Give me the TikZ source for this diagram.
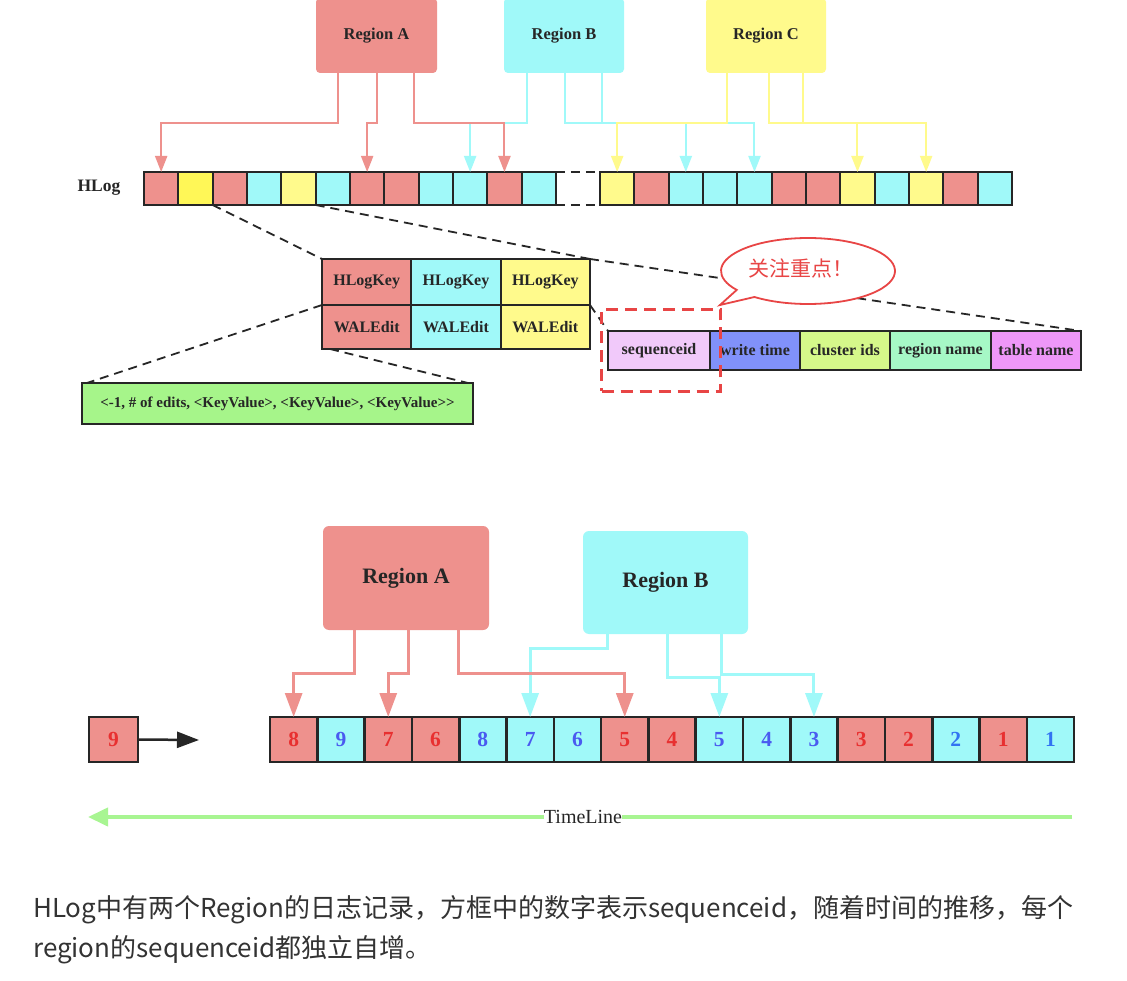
\documentclass[tikz,border=0pt]{standalone}
\usepackage{fontspec}
\setmainfont{Liberation Serif}[Ligatures=NoCommon]
\newfontfamily\cjk{Noto Sans CJK SC}
\usetikzlibrary{arrows.meta,calc}
\definecolor{cr}{HTML}{EE918D}
\definecolor{cc}{HTML}{A0F9F9}
\definecolor{cy}{HTML}{FFFA8C}
\definecolor{cyb}{HTML}{FFF757}
\definecolor{cg}{HTML}{A6F58A}
\definecolor{sqa}{HTML}{F1C9FA}
\definecolor{sqb}{HTML}{8191FA}
\definecolor{sqc}{HTML}{D5F88A}
\definecolor{sqd}{HTML}{A6F8C6}
\definecolor{sqe}{HTML}{EE97F8}
\definecolor{bred}{HTML}{E84545}
\definecolor{nred}{HTML}{E83030}
\definecolor{nblue}{HTML}{4A5AF0}
\definecolor{nblueb}{HTML}{3273F2}
\definecolor{tlc}{HTML}{A8F592}
\definecolor{dk}{HTML}{262626}
\definecolor{capc}{HTML}{333333}
\begin{document}
\begin{tikzpicture}[x=1pt,y=-1pt,
  rbox/.style={rounded corners=4pt, inner sep=0pt, outer sep=0pt, text=dk, anchor=north west},
  lab/.style={font=\bfseries\fontsize{16}{19}\selectfont, text=dk},
  hcell/.style={draw=dk, line width=1.8pt, minimum width=34.33pt, minimum height=33pt, inner sep=0pt, outer sep=0pt, anchor=north west},
  tcell/.style={draw=dk, line width=1.8pt, minimum width=89.33pt, inner sep=0pt, outer sep=0pt, anchor=north west, lab},
  scell/.style={draw=dk, line width=1.8pt, minimum height=39pt, inner sep=0pt, outer sep=0pt, anchor=north west, lab},
  bcell/.style={draw=dk, line width=2.6pt, minimum width=47.3pt, minimum height=45pt, inner sep=0pt, outer sep=0pt, anchor=north west, font=\bfseries\fontsize{21.5}{24}\selectfont},
  ra/.style={draw=cr, line width=2pt, -{Triangle[length=16pt,width=12pt]}},
  ca/.style={draw=cc, line width=2pt, -{Triangle[length=16pt,width=12pt]}},
  ya/.style={draw=cy, line width=2pt, -{Triangle[length=16pt,width=12pt]}},
  rab/.style={draw=cr, line width=3pt, -{Triangle[length=24pt,width=17pt]}},
  cab/.style={draw=cc, line width=3pt, -{Triangle[length=24pt,width=17pt]}},
  zl/.style={draw=dk, line width=1.8pt, dash pattern=on 9pt off 6pt},
]
\useasboundingbox (0,0) rectangle (1127,981);
\fill[white] (0,0) rectangle (1127,981);

% ---------- top region boxes ----------
\node[rbox, fill=cr, minimum width=121pt, minimum height=75pt, font=\bfseries\fontsize{16.5}{19}\selectfont] (tA) at (316,-2) {Region A};
\node[rbox, fill=cc, minimum width=120pt, minimum height=75pt, font=\bfseries\fontsize{16.5}{19}\selectfont] (tB) at (504,-2) {Region B};
\node[rbox, fill=cy, minimum width=120pt, minimum height=75pt, font=\bfseries\fontsize{16.5}{19}\selectfont] (tC) at (706,-2) {Region C};

% ---------- HLog cells ----------
\foreach \f [count=\i] in {cr,cyb,cr,cc,cy,cc,cr,cr,cc,cc,cr,cc}
  \node[hcell, fill=\f] (t\i) at ({144+(\i-1)*34.33},172) {};
\foreach \f [count=\i from 13] in {cy,cr,cc,cc,cc,cr,cr,cy,cc,cy,cr,cc}
  \node[hcell, fill=\f] (t\i) at ({600+(\i-13)*34.33},172) {};
\draw[zl] (t12.north east) -- (t13.north west);
\draw[zl] (t12.south east) -- (t13.south west);
\node[font=\bfseries\fontsize{17.5}{20}\selectfont, text=dk] (hl) at (99,188) {HLog};

% ---------- top arrows ----------
\draw[ca] ([xshift=23pt]tB.south west) -- ++(0,50) -| (t10.north);
\draw[ca] ([xshift=61pt]tB.south west) -- ++(0,50) -| (t15.north);
\draw[ca] ([xshift=98pt]tB.south west) -- ++(0,50) -| (t17.north);
\draw[ra] ([xshift=22pt]tA.south west) -- ++(0,50) -| (t1.north);
\draw[ra] ([xshift=61pt]tA.south west) -- ++(0,50) -| (t7.north);
\draw[ra] ([xshift=98pt]tA.south west) -- ++(0,50) -| (t11.north);
\draw[ya] ([xshift=21pt]tC.south west) -- ++(0,50) -| (t13.north);
\draw[ya] ([xshift=63pt]tC.south west) -- ++(0,50) -| (t20.north);
\draw[ya] ([xshift=97pt]tC.south west) -- ++(0,50) -| (t22.north);

% ---------- HLogKey / WALEdit table ----------
\node[tcell, fill=cr, minimum height=46pt] (k1) at (322,259) {HLogKey};
\node[tcell, fill=cc, minimum height=46pt] (k2) at (411.33,259) {HLogKey};
\node[tcell, fill=cy, minimum height=46pt] (k3) at (500.67,259) {HLogKey};
\node[tcell, fill=cr, minimum height=44pt] (w1) at (322,305) {WALEdit};
\node[tcell, fill=cc, minimum height=44pt] (w2) at (411.33,305) {WALEdit};
\node[tcell, fill=cy, minimum height=44pt] (w3) at (500.67,305) {WALEdit};

% ---------- green box ----------
\node[draw=dk, line width=1.8pt, fill=cg, minimum width=391pt, minimum height=41pt, anchor=north west, inner sep=0pt, outer sep=0pt, font=\bfseries\fontsize{15}{18}\selectfont, text=dk] (g) at (82,383) {<{}-1, \# of edits, <{}KeyValue>{}, <{}KeyValue>{}, <{}KeyValue>{}>};

% ---------- sequence row ----------
\node[scell, fill=sqa, minimum width=102pt] (s1) at (608,331) {sequenceid};
\node[scell, fill=sqb, minimum width=90pt] (s2) at (710,331) {write time};
\node[scell, fill=sqc, minimum width=90pt] (s3) at (800,331) {cluster ids};
\node[scell, fill=sqd, minimum width=101pt] (s4) at (890,331) {region name};
\node[scell, fill=sqe, minimum width=90pt] (s5) at (991,331) {table name};

% ---------- dashed zoom lines ----------
\draw[zl] (t2.south east) -- (k1.north west);
\draw[zl] (t6.south west) -- (k3.north east);
\draw[zl] (k3.north east) -- (s5.north east);
\draw[zl] (w3.north east) -- (s1.north west);
\draw[zl] (w1.north west) -- ([xshift=5pt]g.north west);
\draw[zl] ([xshift=8pt]w1.south west) -- ([xshift=-5pt]g.north east);

% ---------- speech bubble ----------
\coordinate (bc) at (808,271);
\coordinate (btip) at (720,305);
\draw[draw=bred, line width=1.8pt, fill=white] ([shift={(128:87 and 33)}]bc) arc[start angle=128, end angle=-215, x radius=87, y radius=33] -- (btip) -- cycle;
\node[font=\cjk\fontsize{21}{24}\selectfont, text=bred] (btxt) at (801,268) {关注重点！};

% ---------- red dashed focus ----------
\node[draw=bred, line width=3pt, dash pattern=on 12pt off 7pt, minimum width=119pt, minimum height=82pt, inner sep=0pt, anchor=north west] (focus) at (600,308) {};

% ---------- bottom region boxes ----------
\node[rbox, fill=cr, minimum width=166pt, minimum height=104pt, rounded corners=6pt, font=\bfseries\fontsize{22}{26}\selectfont] (bA) at (323,526) {Region A};
\node[rbox, fill=cc, minimum width=165pt, minimum height=103pt, rounded corners=6pt, font=\bfseries\fontsize{22}{26}\selectfont] (bB) at (583,531) {Region B};

% ---------- bottom cells ----------
\foreach \n/\f/\t [count=\i] in {8/cr/nred,9/cc/nblue,7/cr/nred,6/cr/nred,8/cc/nblue,7/cc/nblue,6/cc/nblue,5/cr/nred,4/cr/nred,5/cc/nblue,4/cc/nblue,3/cc/nblue,3/cr/nred,2/cr/nred,2/cc/nblueb,1/cr/nred,1/cc/nblueb}
  \node[bcell, fill=\f, text=\t] (b\i) at ({270+(\i-1)*47.3},717) {\n};

% ---------- bottom arrows ----------
\draw[cab] ([xshift=24pt]bB.south west) -- ++(0,14) -| (b6.north);
\draw[cab] ([xshift=84pt]bB.south west) -- ++(0,43) -| (b10.north);
\draw[cab] ([xshift=138pt]bB.south west) -- ++(0,40) -| (b12.north);
\draw[rab] ([xshift=31pt]bA.south west) -- ++(0,43) -| (b1.north);
\draw[rab] ([xshift=85pt]bA.south west) -- ++(0,43) -| (b3.north);
\draw[rab] ([xshift=135pt]bA.south west) -- ++(0,43) -| (b8.north);

% ---------- new entry ----------
\node[bcell, fill=cr, text=nred, minimum width=49pt] (n9) at (89,717) {9};
\coordinate (n9e) at (199,740);
\draw[draw=dk, line width=2.5pt, -{Triangle[length=22pt,width=16pt]}] (n9.east) -- (n9e);

% ---------- timeline ----------
\coordinate (tlR) at (1072,817);
\coordinate (tlL) at (88,817);
\draw[draw=tlc, line width=4pt, -{Triangle[length=20pt,width=18pt]}] (tlR) -- (tlL);
\node[fill=white, inner sep=0pt, text=dk, font=\fontsize{20}{22}\selectfont] (tl) at (583,817) {TimeLine};

% ---------- caption ----------
\node[anchor=west, inner sep=0pt, text=capc, font=\cjk\fontsize{26}{30}\selectfont] (cap1) at (33,910) {HLog中有两个Region的日志记录，方框中的数字表示sequenceid，随着时间的推移，每个};
\node[anchor=west, inner sep=0pt, text=capc, font=\cjk\fontsize{26}{30}\selectfont] (cap2) at (33,950) {region的sequenceid都独立自增。};
\end{tikzpicture}
\end{document}
